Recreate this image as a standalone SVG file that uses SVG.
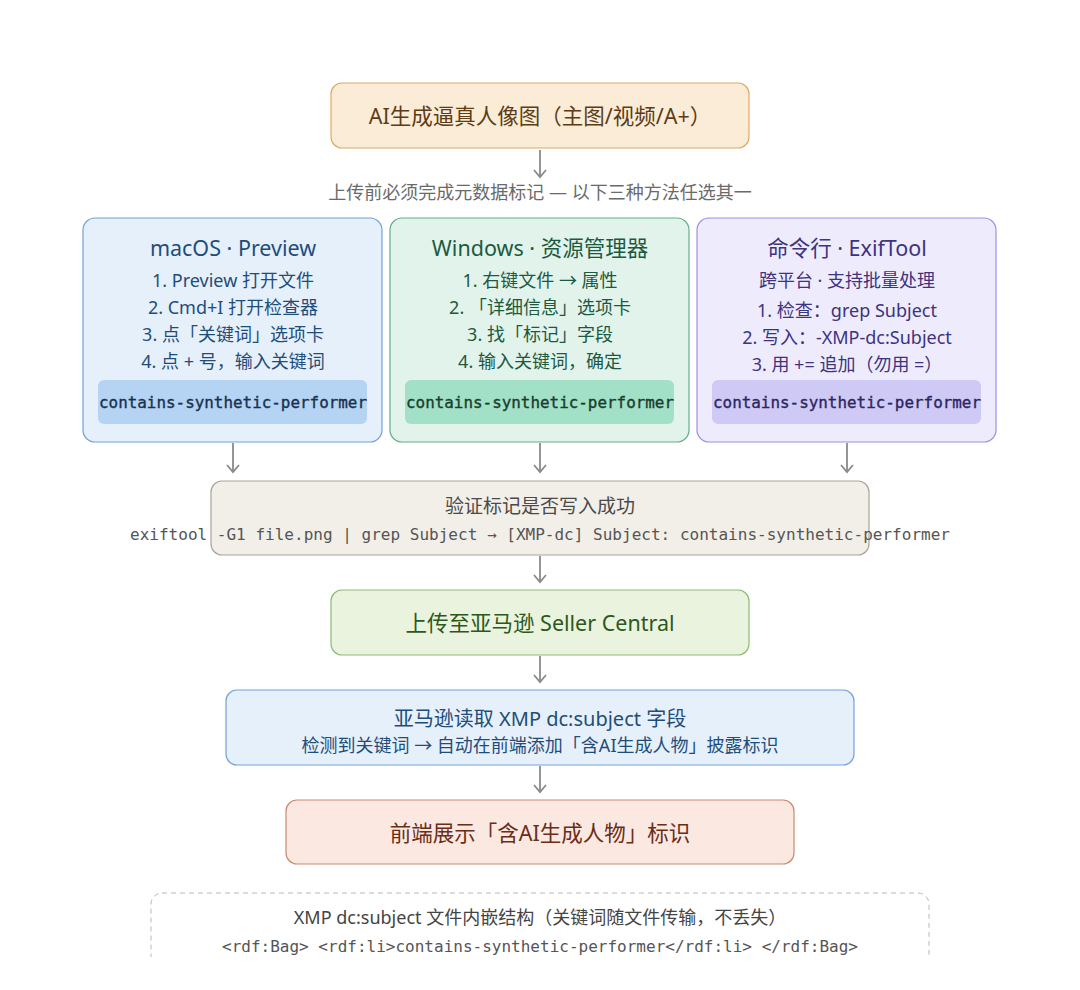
<svg xmlns="http://www.w3.org/2000/svg" width="1080" height="990" viewBox="0 0 1080 990">
<defs>
<clipPath id="clipB"><rect x="0" y="0" width="1080" height="957"/></clipPath>
<style>
text{font-family:"Noto Sans","Noto Sans CJK SC",sans-serif;text-anchor:middle}
.mono{font-family:"DejaVu Sans Mono","Noto Sans CJK SC",monospace}
.t20{font-size:21.5px}
.t16{font-size:18px}
.conn line{stroke:#8a8a8a;stroke-width:1.8}
.conn path{fill:none;stroke:#8a8a8a;stroke-width:1.8}
</style>
</defs>
<rect width="1080" height="990" fill="#ffffff"/>

<g class="conn">
<line x1="540" y1="150" x2="540" y2="176"/>
<path d="M534,170 L540,177 L546,170"/>
<line x1="233" y1="443" x2="233" y2="471"/>
<path d="M227,465 L233,472 L239,465"/>
<line x1="540" y1="443" x2="540" y2="471"/>
<path d="M534,465 L540,472 L546,465"/>
<line x1="847" y1="443" x2="847" y2="471"/>
<path d="M841,465 L847,472 L853,465"/>
<line x1="540" y1="556" x2="540" y2="581"/>
<path d="M534,575 L540,582 L546,575"/>
<line x1="540" y1="656" x2="540" y2="681"/>
<path d="M534,675 L540,682 L546,675"/>
<line x1="540" y1="766" x2="540" y2="791"/>
<path d="M534,785 L540,792 L546,785"/>
</g>

<g id="n-start">
<rect x="331" y="83" width="418" height="65" rx="11" fill="#fbecd7" stroke="#dcaa66" stroke-width="1.2"/>
<text x="540" y="124" class="t20" fill="#5b3c17">AI生成逼真人像图（主图/视频/A+）</text>
</g>

<g id="label-choose">
<text x="540" y="199" class="t16" fill="#6a6a6a">上传前必须完成元数据标记 — 以下三种方法任选其一</text>
</g>

<g id="n-mac">
<rect x="83" y="218" width="299" height="224" rx="12" fill="#e6f0fb" stroke="#72a2d8" stroke-width="1.2"/>
<text x="233" y="256" class="t20" fill="#1f4d7a">macOS · Preview</text>
<text x="233" y="287" class="t16" fill="#1f4d7a">1. Preview 打开文件</text>
<text x="233" y="314" class="t16" fill="#1f4d7a">2. Cmd+I 打开检查器</text>
<text x="233" y="341" class="t16" fill="#1f4d7a">3. 点「关键词」选项卡</text>
<text x="233" y="368" class="t16" fill="#1f4d7a">4. 点 + 号，输入关键词</text>
<rect x="98" y="380" width="269" height="44" rx="6" fill="#b5d3f2"/>
<text x="233" y="408" class="mono" font-size="16" fill="#17314f" stroke="#17314f" stroke-width="0.35" textLength="268" lengthAdjust="spacingAndGlyphs">contains-synthetic-performer</text>
</g>

<g id="n-win">
<rect x="390" y="218" width="299" height="224" rx="12" fill="#e2f3ec" stroke="#62ae8b" stroke-width="1.2"/>
<text x="540" y="256" class="t20" fill="#1c5a3f">Windows · 资源管理器</text>
<text x="540" y="287" class="t16" fill="#1c5a3f">1. 右键文件 → 属性</text>
<text x="540" y="314" class="t16" fill="#1c5a3f">2. 「详细信息」选项卡</text>
<text x="540" y="341" class="t16" fill="#1c5a3f">3. 找「标记」字段</text>
<text x="540" y="368" class="t16" fill="#1c5a3f">4. 输入关键词，确定</text>
<rect x="405" y="380" width="269" height="44" rx="6" fill="#a2e0c7"/>
<text x="540" y="408" class="mono" font-size="16" fill="#173d2e" stroke="#173d2e" stroke-width="0.35" textLength="268" lengthAdjust="spacingAndGlyphs">contains-synthetic-performer</text>
</g>

<g id="n-cli">
<rect x="697" y="218" width="299" height="224" rx="12" fill="#eeecfc" stroke="#9d90e0" stroke-width="1.2"/>
<text x="847" y="256" class="t20" fill="#3d3380">命令行 · ExifTool</text>
<text x="847" y="287" class="t16" fill="#3d3380">跨平台 · 支持批量处理</text>
<text x="847" y="317" class="t16" fill="#3d3380">1. 检查：grep Subject</text>
<text x="847" y="344" class="t16" fill="#3d3380">2. 写入：-XMP-dc:Subject</text>
<text x="847" y="371" class="t16" fill="#3d3380">3. 用 += 追加（勿用 =）</text>
<rect x="712" y="380" width="269" height="44" rx="6" fill="#cfcaf5"/>
<text x="847" y="408" class="mono" font-size="16" fill="#2c2660" stroke="#2c2660" stroke-width="0.35" textLength="268" lengthAdjust="spacingAndGlyphs">contains-synthetic-performer</text>
</g>

<g id="n-verify">
<rect x="211" y="481" width="658" height="74" rx="11" fill="#f2efe9" stroke="#aaa498" stroke-width="1.2"/>
<text x="540" y="513" font-size="19" fill="#4a4a4a">验证标记是否写入成功</text>
<text x="540" y="540" class="mono" font-size="15" fill="#555555" textLength="820" lengthAdjust="spacingAndGlyphs">exiftool -G1 file.png | grep Subject → [XMP-dc] Subject: contains-synthetic-performer</text>
</g>

<g id="n-upload">
<rect x="331" y="590" width="418" height="65" rx="11" fill="#eaf3de" stroke="#8fba72" stroke-width="1.2"/>
<text x="540" y="631" class="t20" fill="#2d581b">上传至亚马逊 Seller Central</text>
</g>

<g id="n-amazon">
<rect x="226" y="690" width="628" height="75" rx="11" fill="#e6f0fb" stroke="#72a2d8" stroke-width="1.2"/>
<text x="540" y="726" font-size="20" fill="#1f4d7a">亚马逊读取 XMP dc:subject 字段</text>
<text x="540" y="752" class="t16" fill="#1f4d7a">检测到关键词 → 自动在前端添加「含AI生成人物」披露标识</text>
</g>

<g id="n-front">
<rect x="286" y="800" width="508" height="64" rx="11" fill="#fbe9e1" stroke="#c98a72" stroke-width="1.2"/>
<text x="540" y="841" class="t20" fill="#6a2d18">前端展示「含AI生成人物」标识</text>
</g>

<g id="n-xmp" clip-path="url(#clipB)">
<rect x="151" y="893" width="778" height="100" rx="11" fill="#ffffff" stroke="#b8b8b8" stroke-width="1" stroke-dasharray="5 4"/>
<text x="540" y="924" class="t16" fill="#444444">XMP dc:subject 文件内嵌结构（关键词随文件传输，不丢失）</text>
<text x="540" y="952" class="mono" font-size="15" fill="#555555" textLength="636" lengthAdjust="spacingAndGlyphs">&lt;rdf:Bag&gt; &lt;rdf:li&gt;contains-synthetic-performer&lt;/rdf:li&gt; &lt;/rdf:Bag&gt;</text>
</g>
</svg>
